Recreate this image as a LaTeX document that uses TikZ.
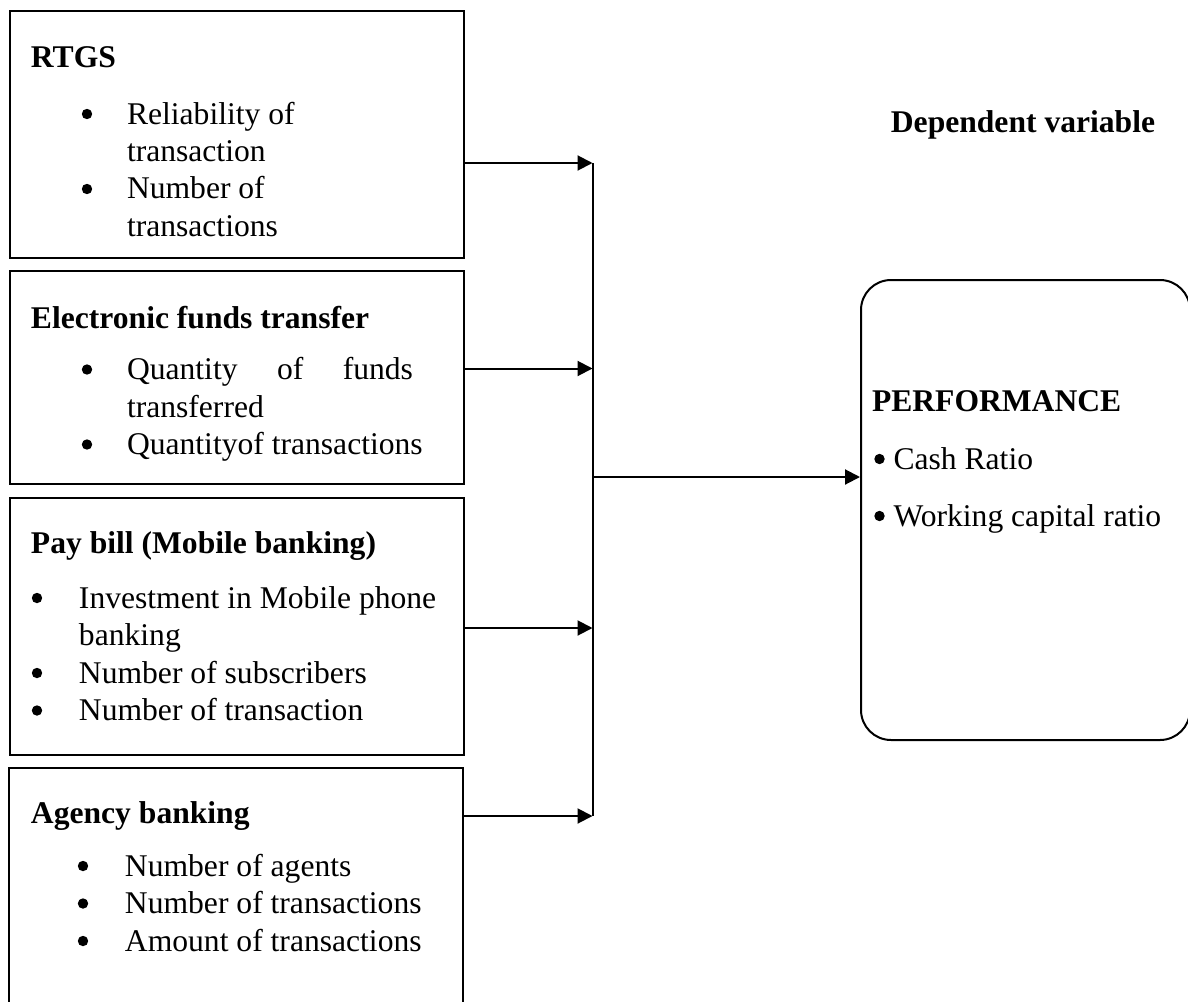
\documentclass[tikz,border=0pt]{standalone}
\usepackage{fontspec}
\setmainfont{Liberation Serif}
\usetikzlibrary{arrows.meta,positioning}

\newcommand{\dotmark}{\tikz[baseline=-5pt]{\fill (0,0) circle (2.6pt);}}
\newcommand{\boxhead}[2]{\rule{0pt}{#1}\textbf{#2}\par}
\newcommand{\bitem}[3]{\hspace*{#1}\makebox[0pt]{\dotmark}\hspace*{#2}#3\par}
\newcommand{\bcont}[2]{\hspace*{#1}#2\par}

\begin{document}
\begin{tikzpicture}[x=0.5pt, y=-0.5pt,
  ibox/.style={draw, rectangle, line width=1pt, anchor=north west, inner sep=0pt},
  dvbox/.style={ibox, rounded corners=15pt},
  link/.style={line width=1pt, -{Triangle[length=7.5pt, width=7.5pt]}},
  font=\fontsize{15.8}{18.75}\selectfont]
  \useasboundingbox (0,0) rectangle (1188,1001);

  % independent variables
  \node[ibox] (rtgs) at (8.5,10) {\parbox[t][123.5pt][t]{227.25pt}{\raggedright
    \boxhead{28pt}{\hspace*{10.75pt}RTGS}\vspace{9.75pt}
    \bitem{38.75pt}{20pt}{Reliability of}
    \bcont{58.75pt}{transaction}
    \bitem{38.75pt}{20pt}{Number of}
    \bcont{58.75pt}{transactions}}};
  \node[ibox] (eft) at (8.5,269.5) {\parbox[t][106.75pt][t]{227.25pt}{\raggedright
    \boxhead{29pt}{\hspace*{10.75pt}Electronic funds transfer}\vspace{6.75pt}
    \bitem{38.75pt}{20pt}{\makebox[143pt][s]{Quantity of funds}}
    \bcont{58.75pt}{transferred}
    \bitem{38.75pt}{20pt}{Quantityof transactions}}};
  \node[ibox] (paybill) at (8.5,497) {\parbox[t][128.5pt][t]{227.25pt}{\raggedright
    \boxhead{27.5pt}{\hspace*{10.75pt}Pay bill (Mobile banking)}\vspace{8.75pt}
    \bitem{13.75pt}{21pt}{Investment in Mobile phone}
    \bcont{34.75pt}{banking}
    \bitem{13.75pt}{21pt}{Number of subscribers}
    \bitem{13.75pt}{21pt}{Number of transaction}}};
  \node[ibox] (agency) at (7.5,767) {\parbox[t][130pt][t]{227.25pt}{\raggedright
    \boxhead{27.5pt}{\hspace*{11.25pt}Agency banking}\vspace{7.75pt}
    \bitem{37.25pt}{21pt}{Number of agents}
    \bitem{37.25pt}{21pt}{Number of transactions}
    \bitem{37.25pt}{21pt}{Amount of transactions}}};

  % dependent variable
  \node[font=\fontsize{15.8}{18.75}\selectfont\bfseries, anchor=base] (dvlabel) at (1023,132) {Dependent variable};
  \node[dvbox] (perf) at (860,279) {\parbox[t][230pt][t]{164.5pt}{\raggedright
    \boxhead{65.5pt}{\hspace*{5.5pt}PERFORMANCE}\vspace{10.25pt}
    \bitem{9.25pt}{7pt}{Cash Ratio}\vspace{9.75pt}
    \bitem{9.25pt}{7pt}{Working capital ratio}}};

  \coordinate (bus1) at (592.5,163);
  \coordinate (bus2) at (592.5,368.5);
  \coordinate (bus3) at (592.5,628);
  \coordinate (bus4) at (592.5,816);
  \coordinate (busm) at (592.5,477);

  \draw[link] (rtgs.east |- bus1) -- (bus1);
  \draw[link] (eft.east |- bus2) -- (bus2);
  \draw[link] (paybill.east |- bus3) -- (bus3);
  \draw[link] (agency.east |- bus4) -- (bus4);
  \draw[line width=1pt] (bus1) -- (bus4);
  \draw[link] (busm) -- (perf.west |- busm);

\end{tikzpicture}
\end{document}
